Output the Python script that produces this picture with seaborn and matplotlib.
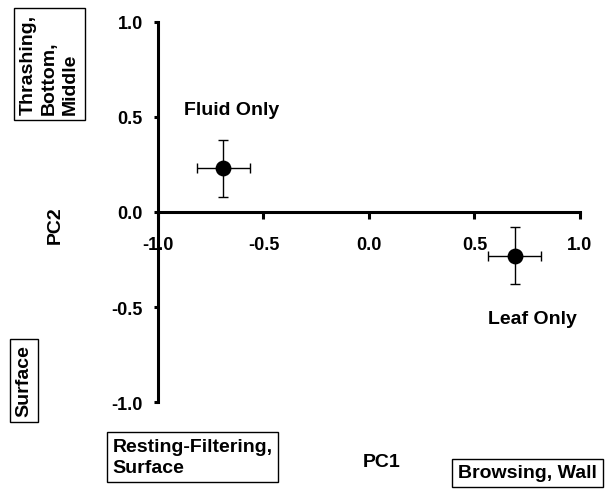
import matplotlib
matplotlib.use("Agg")
import matplotlib.pyplot as plt
import seaborn as sns
import pandas as pd

# Diet group means on the first two principal components
groups = ["Fluid Only", "Leaf Only"]
pc1 = [-0.69, 0.69]
pc2 = [0.23, -0.23]
pc1_err = [0.125, 0.125]
pc2_err = [0.15, 0.15]

ticks = [-1.0, -0.5, 0.0, 0.5, 1.0]
tick_labels = ["-1.0", "-0.5", "0.0", "0.5", "1.0"]

df = pd.DataFrame({"group": groups, "PC1": pc1, "PC2": pc2})

sns.set_style("ticks")
plt.rcParams["font.family"] = ["Liberation Sans", "DejaVu Sans"]
plt.rcParams["font.weight"] = "bold"
plt.rcParams["text.color"] = "black"
plt.rcParams["axes.labelcolor"] = "black"
plt.rcParams["xtick.color"] = "black"
plt.rcParams["ytick.color"] = "black"

fig = plt.figure(figsize=(6.14, 5.02), dpi=100)
ax = fig.add_axes([0.2573, 0.1972, 0.6873, 0.757])

ax.errorbar(df["PC1"], df["PC2"], xerr=pc1_err, yerr=pc2_err, fmt="none",
            ecolor="black", elinewidth=1, capsize=3.6, capthick=1, zorder=2)
sns.scatterplot(data=df, x="PC1", y="PC2", ax=ax, color="black", s=130,
                edgecolor="black", linewidth=0, zorder=3, legend=False)

# group labels next to each point
offsets = {"Fluid Only": (6, 42), "Leaf Only": (13, -45)}
for g, x, y in zip(groups, pc1, pc2):
    ax.annotate(g, (x, y), xytext=offsets[g], textcoords="offset points",
                ha="center", va="center", fontsize=14, fontweight="bold",
                color="black")

ax.set_xlim(-1.0, 1.0)
ax.set_ylim(-1.0, 1.0)
ax.set_xticks(ticks)
ax.set_xticklabels(tick_labels)
ax.set_yticks(ticks)
ax.set_yticklabels(tick_labels)

ax.spines["bottom"].set_position(("data", 0))
ax.spines["top"].set_visible(False)
ax.spines["right"].set_visible(False)
for s in ["left", "bottom"]:
    ax.spines[s].set_linewidth(2.2)
    ax.spines[s].set_color("black")

ax.tick_params(axis="x", direction="out", length=5, width=2.2, pad=12,
               labelsize=13, colors="black")
ax.tick_params(axis="y", direction="out", length=3, width=2.2, pad=8,
               labelsize=13, colors="black")
for lab in ax.get_xticklabels() + ax.get_yticklabels():
    lab.set_fontweight("bold")

ax.set_xlabel("")
ax.set_ylabel("")

fig.text(0.622, 0.0777, "PC1", ha="center", va="center", fontsize=14, fontweight="bold")
fig.text(0.0896, 0.552, "PC2", ha="center", va="center", rotation=90,
         fontsize=14, fontweight="bold")

box = dict(boxstyle="square,pad=0.3", facecolor="white", edgecolor="black", linewidth=1)
fig.text(0.0806, 0.8705, "Thrashing,\nBottom,\nMiddle", ha="center", va="center",
         rotation=90, multialignment="left", fontsize=14, fontweight="bold",
         linespacing=1.3, bbox=box)
fig.text(0.039, 0.240, "Surface", ha="center", va="center", rotation=90,
         fontsize=14, fontweight="bold", bbox=box)
fig.text(0.3135, 0.0876, "Resting-Filtering,\nSurface", ha="center", va="center",
         multialignment="left", fontsize=14, fontweight="bold", linespacing=1.3, bbox=box)
fig.text(0.859, 0.0558, "Browsing, Wall", ha="center", va="center",
         fontsize=14, fontweight="bold", bbox=box)

fig.savefig("out.png", dpi=100)
